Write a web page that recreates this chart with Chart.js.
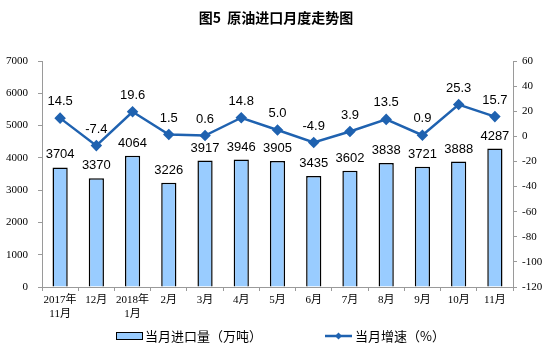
<!DOCTYPE html>
<html>
<head>
<meta charset="utf-8">
<script src="https://cdn.jsdelivr.net/npm/chart.js@4"></script>
<style>
  html, body { margin: 0; padding: 0; background: #fff; }
  #wrap { width: 551px; height: 349px; position: relative; }
</style>
</head>
<body>
<div id="wrap"><canvas id="oilChart"></canvas></div>
<script>
// 月份
var months = [['2017年', '11月'], '12月', ['2018年', '1月'], '2月', '3月', '4月', '5月', '6月', '7月', '8月', '9月', '10月', '11月'];
// 当月进口量（万吨）
var imports = [3704, 3370, 4064, 3226, 3917, 3946, 3905, 3435, 3602, 3838, 3721, 3888, 4287];
// 当月增速（%）
var growth = [14.5, -7.4, 19.6, 1.5, 0.6, 14.8, 5.0, -4.9, 3.9, 13.5, 0.9, 25.3, 15.7];

var barColor = '#99CCFF';
var lineColor = '#1F62B0';
var axisColor = '#9a9a9a';
var serif = '"Liberation Serif", "Noto Sans CJK SC", serif';
var sans = '"Liberation Sans", Arial, sans-serif';
var cjk = '"Noto Sans CJK SC", sans-serif';

// 标题、数值标签、图例
var decor = {
    id: 'decor',
    afterDatasetsDraw: function(chart) {
        var ctx = chart.ctx;
        ctx.save();
        ctx.fillStyle = '#000';
        ctx.font = '13px ' + sans;
        ctx.textAlign = 'center';
        ctx.textBaseline = 'bottom';
        chart.getDatasetMeta(0).data.forEach(function(bar, i) {
            ctx.fillText(imports[i], bar.x, bar.y - 6);
        });
        chart.getDatasetMeta(1).data.forEach(function(pt, i) {
            ctx.fillText(growth[i].toFixed(1), pt.x, pt.y - 10);
        });
        ctx.restore();
    },
    afterDraw: function(chart) {
        var ctx = chart.ctx;
        ctx.save();
        // 标题
        ctx.fillStyle = '#000';
        ctx.font = 'bold 14px ' + cjk;
        ctx.textAlign = 'center';
        ctx.textBaseline = 'middle';
        ctx.fillText('图5  原油进口月度走势图', 276, 18);

        // 图例
        var ly = 336;
        ctx.fillStyle = barColor;
        ctx.strokeStyle = '#000';
        ctx.lineWidth = 1;
        ctx.fillRect(116, ly - 3, 26, 6);
        ctx.strokeRect(116.5, ly - 3.5, 26, 7);
        ctx.fillStyle = '#000';
        ctx.font = '13px ' + cjk;
        ctx.textAlign = 'left';
        ctx.fillText('当月进口量（万吨）', 145, ly);

        ctx.strokeStyle = lineColor;
        ctx.lineWidth = 2.5;
        ctx.beginPath();
        ctx.moveTo(325, ly);
        ctx.lineTo(352, ly);
        ctx.stroke();
        ctx.fillStyle = lineColor;
        ctx.beginPath();
        ctx.moveTo(338.5, ly - 3.5);
        ctx.lineTo(342, ly);
        ctx.lineTo(338.5, ly + 3.5);
        ctx.lineTo(335, ly);
        ctx.closePath();
        ctx.fill();
        ctx.fillStyle = '#000';
        ctx.fillText('当月增速（%）', 355, ly);
        ctx.restore();
    }
};

var ctx = document.getElementById('oilChart').getContext('2d');
var oilChart = new Chart(ctx, {
    type: 'bar',
    data: {
        labels: months,
        datasets: [{
            type: 'bar',
            label: '当月进口量（万吨）',
            data: imports,
            yAxisID: 'y',
            backgroundColor: barColor,
            borderColor: '#000',
            borderWidth: 1.5,
            barPercentage: 0.42,
            categoryPercentage: 1,
            order: 2
        }, {
            type: 'line',
            label: '当月增速（%）',
            data: growth,
            yAxisID: 'y1',
            borderColor: lineColor,
            backgroundColor: lineColor,
            borderWidth: 2.5,
            pointStyle: 'rectRot',
            pointRadius: 4,
            pointHoverRadius: 4,
            tension: 0,
            order: 1
        }]
    },
    options: {
        responsive: true,
        maintainAspectRatio: false,
        animation: false,
        layout: { padding: { top: 61, bottom: 22, left: 0, right: 0 } },
        plugins: {
            legend: { display: false },
            title: { display: false },
            tooltip: { enabled: false }
        },
        scales: {
            x: {
                grid: { drawOnChartArea: false, color: axisColor, tickLength: 4, offset: true },
                border: { color: axisColor },
                ticks: { color: '#000', font: { family: serif, size: 11 }, maxRotation: 0, autoSkip: false, padding: 3 },
                afterFit: function(s) { s.height = 40; }
            },
            y: {
                position: 'left',
                min: 0, max: 7000,
                grid: { drawOnChartArea: false, color: axisColor, tickLength: 4 },
                border: { color: axisColor },
                ticks: {
                    stepSize: 1000, color: '#000', font: { family: serif, size: 11 }, padding: 10,
                    callback: function(v) { return String(v); }
                },
                afterFit: function(s) { s.width = 42; }
            },
            y1: {
                position: 'right',
                min: -120, max: 60,
                grid: { drawOnChartArea: false, color: axisColor, tickLength: 4 },
                border: { color: axisColor },
                ticks: {
                    stepSize: 20, color: '#000', font: { family: serif, size: 11 }, padding: 5,
                    callback: function(v) { return String(v); }
                },
                afterFit: function(s) { s.width = 38; }
            }
        }
    },
    plugins: [decor]
});
</script>
</body>
</html>
